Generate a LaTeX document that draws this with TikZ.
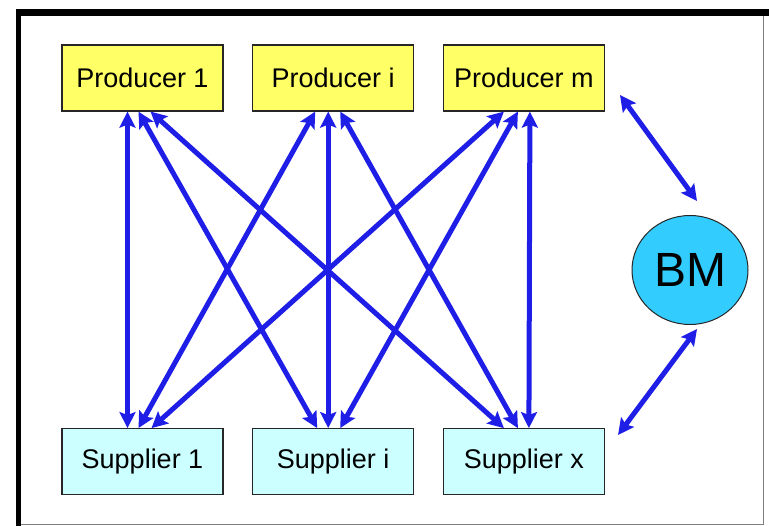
\documentclass[tikz,border=0pt]{standalone}
\usepackage{fontspec}
\setmainfont{Liberation Sans}
\usetikzlibrary{positioning,shapes.geometric,arrows.meta}

\definecolor{linkblue}{RGB}{30,30,230}
\definecolor{prodfill}{RGB}{255,255,102}
\definecolor{supfill}{RGB}{204,255,255}
\definecolor{bmfill}{RGB}{51,204,255}

\begin{document}
\begin{tikzpicture}[
    x=1bp, y=-1bp,
    agent/.style={
        draw=black!85,
        line width=1.2bp,
        minimum width=161bp,
        minimum height=66bp,
        inner sep=0pt,
        font=\fontsize{27bp}{32bp}\selectfont
    },
    prod/.style={agent,fill=prodfill},
    supp/.style={agent,fill=supfill},
    link/.style={
        linkblue,
        line width=5bp,
        {Stealth[length=16bp,width=16bp,inset=3bp]}-{Stealth[length=16bp,width=16bp,inset=3bp]}
    },
    node distance=28.5bp
]
  \useasboundingbox (0,0) rectangle (769,526);

  % frame
  \fill[black] (16,9) rectangle (769,16);
  \fill[black] (16,9) rectangle (21,526);
  \draw[gray,line width=1bp] (21,524) -- (763,524) -- (763,16);

  % producers and suppliers
  \node[prod] (p1) at (142.5,78) {Producer 1};
  \node[prod,right=of p1] (pi) {Producer i};
  \node[prod,right=of pi] (pm) {Producer m};

  \node[supp,below=316.5bp of p1] (s1) {Supplier 1};
  \node[supp,below=316.5bp of pi] (si) {Supplier i};
  \node[supp,below=316.5bp of pm] (sx) {Supplier x};

  \node[ellipse,draw=black!85,fill=bmfill,line width=1bp,
        minimum width=116bp,minimum height=109bp,inner sep=0pt,
        font=\fontsize{48bp}{56bp}\selectfont] (bm) at (690,270) {BM};

  % links between producers and suppliers
  \foreach \a/\xa/\b/\xb in {p1/-15/s1/-15, p1/-4/si/-16, p1/8/sx/-20,
                             pi/-18/s1/-4, pi/-5/si/-5, pi/7/sx/-6,
                             pm/-20/s1/9, pm/-6/si/7, pm/6/sx/5} {
    \draw[link] ([xshift=\xa bp]\a.south) -- ([xshift=\xb bp]\b.north);
  }

  % links to BM
  \coordinate (pmbm) at (620,95);
  \coordinate (bmtop) at (697,201);
  \coordinate (bmbot) at (697,329);
  \coordinate (sxbm) at (618,435);
  \draw[link] (pmbm) -- (bmtop);
  \draw[link] (bmbot) -- (sxbm);
\end{tikzpicture}
\end{document}
